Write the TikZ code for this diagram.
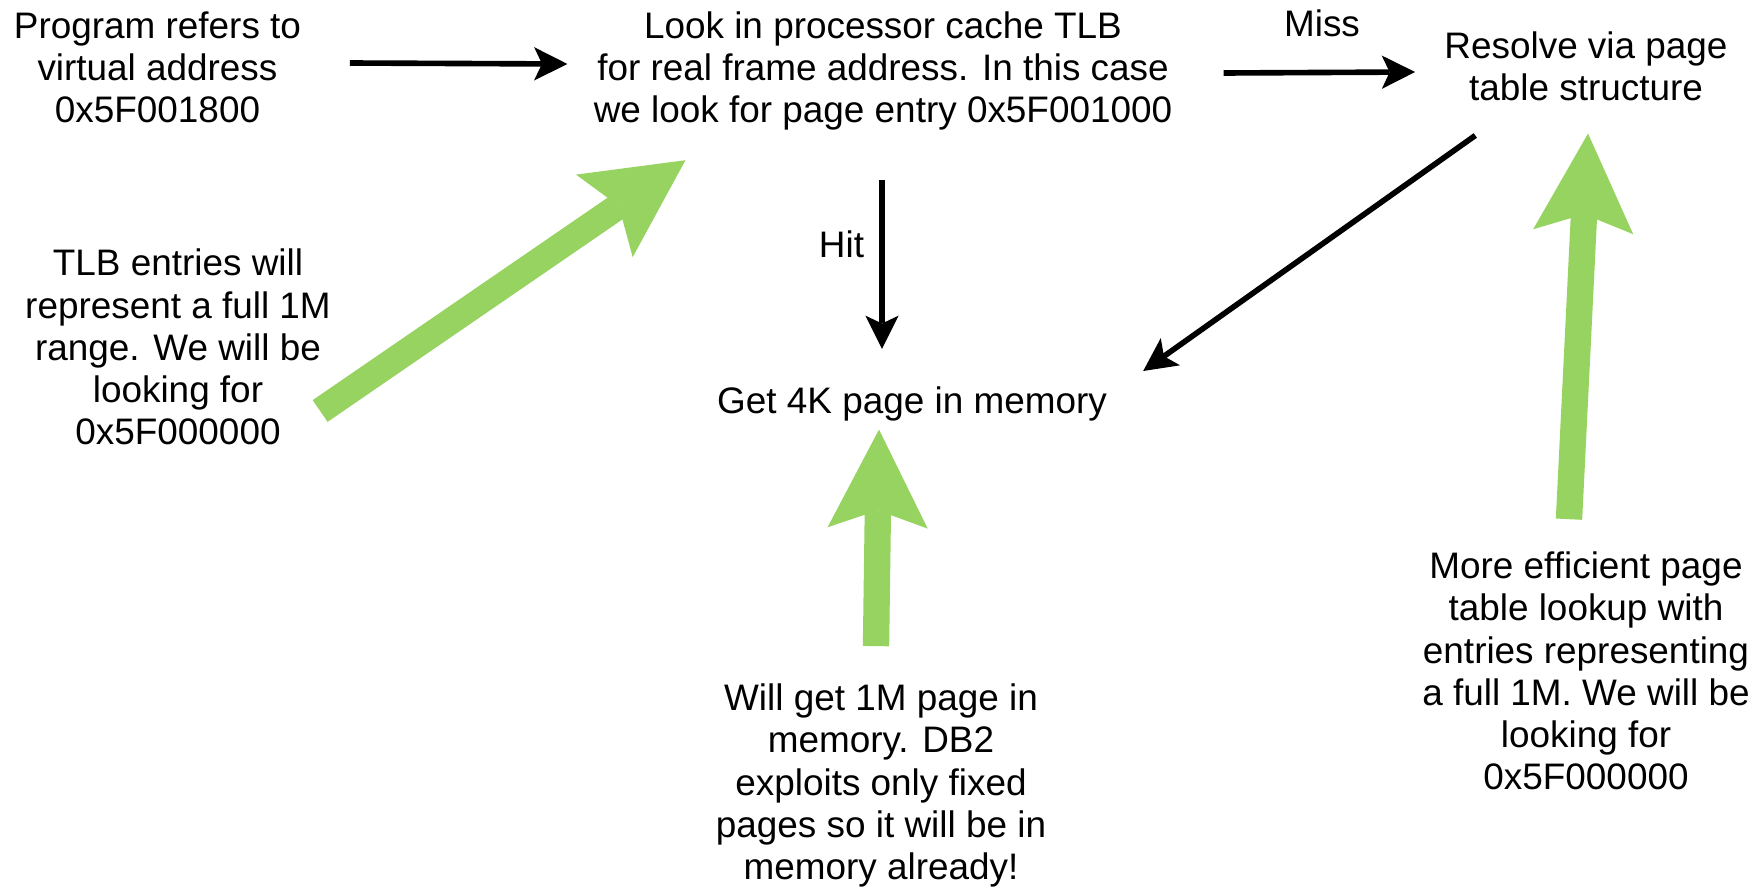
\documentclass[tikz,border=0pt]{standalone}
\usepackage{fontspec}
\setmainfont{Liberation Sans}
\usetikzlibrary{arrows.meta}
\definecolor{hintgreen}{RGB}{151,211,96}
\tikzset{
  txt/.style = {font=\fontsize{21}{24}\selectfont, align=center, inner sep=0pt},
  blk/.style = {line width=3.2pt, -{Stealth[length=19pt,width=19pt,inset=4.5pt,line width=0pt]}},
  hint/.style = {hintgreen, line width=15pt, -{Stealth[length=56pt,width=57pt,inset=10pt,line width=0pt]}}
}
\begin{document}
\begin{tikzpicture}[x=0.02cm, y=-0.02cm]
\useasboundingbox (0,0) rectangle (1764,889);
% steps
\node[txt] (prog) at (157.5,67) {Program refers to\\virtual address\\0x5F001800};
\node[txt] (look) at (883,71) {Look in processor cache TLB\\for real frame address. In this case\\we look for page entry 0x5F001000};
\node[txt] (resolve) at (1586,66.5) {Resolve via page\\table structure};
\node[txt] (mem) at (912,403.5) {Get 4K page in memory};
\node[txt] (miss) at (1322,23) {Miss};
\node[txt] (hit) at (841.5,244) {Hit};
% notes
\node[txt] (tlbnote) at (178,347) {TLB entries will\\represent a full 1M\\range. We will be\\looking for\\0x5F000000};
\node[txt] (pagenote) at (881,785.5) {Will get 1M page in\\memory. DB2\\exploits only fixed\\pages so it will be in\\memory already!};
\node[txt] (effnote) at (1586,671) {More efficient page\\table lookup with\\entries representing\\a full 1M. We will be\\looking for\\0x5F000000};
% flow
\draw[blk] ([shift={(48.5,-4)}]prog.east) -- ([shift={(-26,-7)}]look.west);
\draw[blk] ([shift={(51,2)}]look.east) -- ([shift={(-29,5.5)}]resolve.west);
\draw[blk] ([shift={(-1,49.5)}]look.south) -- ([shift={(-30,-37)}]mem.north);
\draw[blk] ([shift={(-110.7,34)}]resolve.south) -- ([shift={(36,-32.5)}]mem.east);
% hints
\draw[hint] ([shift={(-11,64)}]tlbnote.east) -- ([shift={(92,29.5)}]look.south west);
\draw[hint] ([shift={(-5,-37.5)}]pagenote.north) -- ([shift={(-33,8.5)}]mem.south);
\draw[hint] ([shift={(-17,-32.5)}]effnote.north) -- ([shift={(2,32)}]resolve.south);
\end{tikzpicture}
\end{document}
